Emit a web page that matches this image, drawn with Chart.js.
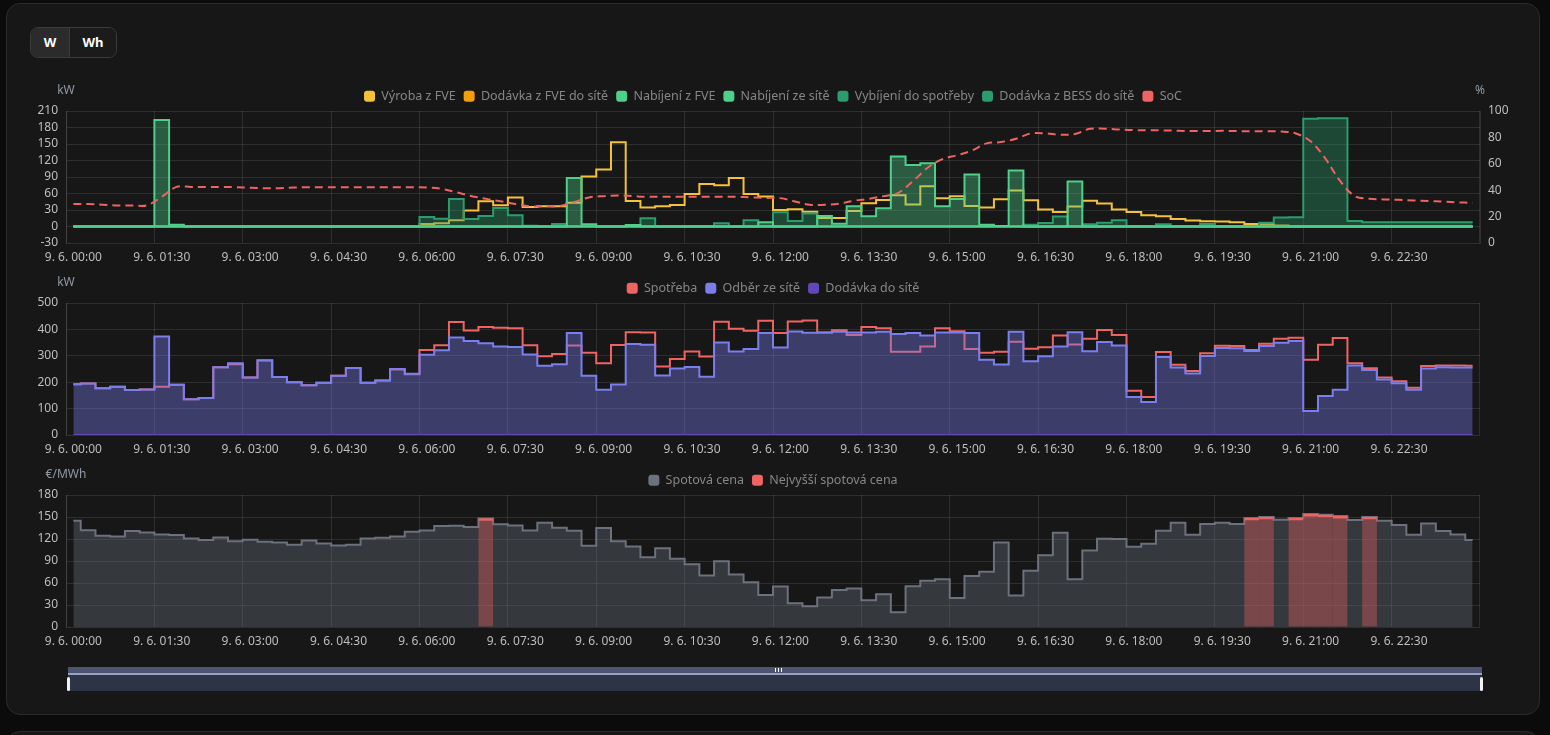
<!DOCTYPE html>
<html lang="cs">
<head>
<meta charset="utf-8">
<title>Energie - 9. 6.</title>
<script src="https://cdn.jsdelivr.net/npm/chart.js@4.4.1/dist/chart.umd.min.js"></script>
<style>
    html, body { margin: 0; padding: 0; width: 1550px; height: 735px; overflow: hidden; background: #0b0b0b; font-family: "Noto Sans", sans-serif; }
    .panel { position: absolute; left: 6px; top: 3px; width: 1532px; height: 710px; background: #171717; border: 1px solid #2b2b2b; border-radius: 14px; }
    .panel2 { position: absolute; left: 6px; top: 731px; width: 1532px; height: 60px; background: #171717; border: 1px solid #2b2b2b; border-radius: 14px; }
    .prepinac { position: absolute; left: 30px; top: 27px; height: 29px; display: flex; border: 1px solid #3b3b3b; border-radius: 8px; overflow: hidden; }
    .prepinac span { display: block; line-height: 29px; text-align: center; color: #fff; font-weight: 700; font-size: 13px; background: #1b1b1b; }
    .prepinac span.akt { width: 38px; background: #2b2b2b; border-right: 1px solid #3b3b3b; }
    .prepinac span.dalsi { width: 46px; }
    canvas.graf { position: absolute; left: 0; }
    .posuvnik { position: absolute; left: 68px; top: 667px; width: 1414px; height: 24px; }
    .posuvnik .pas { position: absolute; left: 0; top: 0; width: 100%; height: 6px; background: #4c5472; }
    .posuvnik .linka { position: absolute; left: 0; top: 6px; width: 100%; height: 2px; background: #9aa1bb; }
    .posuvnik .telo { position: absolute; left: 0; top: 8px; width: 100%; height: 16px; background: #2d3446; }
    .posuvnik .uchyt { position: absolute; top: 10px; width: 3px; height: 14px; background: #f2f2f2; border-radius: 2px; }
    .posuvnik .uchop { position: absolute; left: 707px; top: 1px; width: 5px; height: 4px; border-left: 1px solid #fff; border-right: 1px solid #fff; }
    .posuvnik .uchop:after { content: ""; position: absolute; left: 2px; top: 0; width: 1px; height: 4px; background: #fff; }
</style>
</head>
<body>
<div class="panel"></div>
<div class="panel2"></div>
<div class="prepinac"><span class="akt">W</span><span class="dalsi">Wh</span></div>

<canvas id="grafBaterie" class="graf" width="1550" height="192" style="top:80px"></canvas>
<canvas id="grafSit" class="graf" width="1550" height="192" style="top:272px"></canvas>
<canvas id="grafCena" class="graf" width="1550" height="192" style="top:464px"></canvas>

<div class="posuvnik">
    <div class="pas"></div><div class="linka"></div><div class="telo"></div>
    <div class="uchop"></div>
    <div class="uchyt" style="left:-1px"></div>
    <div class="uchyt" style="left:1412px"></div>
</div>

<script>
// =====================================
// DATA (15min intervaly, 9. 6.)
// =====================================

const casy = [];
for (let h = 0; h < 24; h++) {
    for (let m = 0; m < 60; m += 15) {
        casy.push(`9. 6. ${String(h).padStart(2, "0")}:${String(m).padStart(2, "0")}`);
    }
}

// kW
const vyrobaFVE = [
    0, 0, 0, 0, 0, 0, 0, 0, 0, 0, 0, 0,
    0, 0, 0, 0, 0, 0, 0, 0, 0, 0, 0, 0,
    4.6, 5.8, 11.3, 28.9, 46, 38.5, 52.6, 35.6, 36.8, 36.8, 43, 91,
    103.5, 153, 46.5, 34.4, 36.8, 39.2, 59.3, 77.5, 75, 88, 59.3, 54.4,
    30, 31.4, 27, 15.6, 15.6, 28.3, 42.2, 48.4, 57, 40, 73, 51.4,
    55, 37.5, 34.4, 49.6, 65.4, 47.8, 30.7, 26.5, 36.2, 47, 41.7, 30.7,
    26.5, 20.4, 18.6, 13.7, 10.7, 9.5, 8.9, 7.7, 4.6, 4.6, 2, 0,
    0, 0, 0, 0, 0, 0, 0, 0, 0, 0, 0, 0
];
const dodavkaFVE = [
    0, 0, 0, 0, 0, 0, 0, 0, 0, 0, 0, 0, 0, 0, 0, 0, 0, 0, 0, 0, 0, 0, 0, 0,
    0, 0, 0, 0, 0, 0, 0, 0, 0, 0, 0, 0, 0, 0, 0, 0, 0, 0, 0, 0, 0, 0, 0, 0,
    0, 0, 0, 0, 0, 0, 0, 0, 0, 0, 0, 0, 0, 0, 0, 0, 0, 0, 0, 0, 0, 0, 0, 0,
    0, 0, 0, 0, 0, 0, 0, 0, 0, 0, 0, 0, 0, 0, 0, 0, 0, 0, 0, 0, 0, 0, 0, 0
];
const nabijeniFVE = [
    0, 0, 0, 0, 0, 0, 0, 0, 0, 0, 0, 0,
    0, 0, 0, 0, 0, 0, 0, 0, 0, 0, 0, 0,
    0, 0, 0, 0, 0, 0, 0, 0, 0, 0, 88, 4,
    0, 0, 2.8, 0, 0, 0, 0, 0, 0, 0, 0, 7.6,
    0, 0, 0, 19.2, 5.2, 36.8, 18.6, 33, 127.4, 112, 115, 36.8,
    50, 94.5, 3, 1, 102, 0, 0, 0, 81.8, 0, 0, 0,
    0, 0, 0, 0, 0, 0, 0, 0, 0, 0, 0, 0,
    0, 0, 0, 0, 0, 0, 0, 0, 0, 0, 0, 0
];
const nabijeniSit = [
    0, 0, 0, 0, 0, 0, 193.5, 3, 0, 0, 0, 0, 0, 0, 0, 0, 0, 0, 0, 0, 0, 0, 0, 0,
    0, 0, 0, 0, 0, 0, 0, 0, 0, 0, 0, 0, 0, 0, 0, 0, 0, 0, 0, 0, 0, 0, 0, 0,
    0, 0, 0, 0, 0, 0, 0, 0, 0, 0, 0, 0, 0, 0, 0, 0, 0, 0, 0, 0, 0, 0, 0, 0,
    0, 0, 0, 0, 0, 0, 0, 0, 0, 0, 0, 0, 0, 0, 0, 0, 0, 0, 0, 0, 0, 0, 0, 0
];
const vybijeni = [
    0, 0, 0, 0, 0, 0, 0, 0, 0, 0, 0, 0,
    0, 0, 0, 0, 0, 0, 0, 0, 0, 0, 0, 0,
    17.3, 14.3, 50, 13.7, 19.2, 33.8, 20.4, 1.5, 0, 4.6, 0, 0,
    0, 0, 0, 15, 0, 0, 0, 0, 5.8, 0, 11.3, 0,
    25.9, 10, 23.5, 0, 0, 0, 0, 0, 0, 0, 0, 0,
    0, 0, 0, 0, 0, 3.4, 6.4, 18, 0, 4, 7, 11.3,
    0, 0, 4, 0, 0, 4.6, 0, 0, 0, 7, 16.2, 16.8,
    196, 196.6, 196.6, 10, 7.7, 7.7, 7.7, 7.7, 7.7, 7.7, 7.7, 7.7
];
const dodavkaBESS = [
    0, 0, 0, 0, 0, 0, 0, 0, 0, 0, 0, 0, 0, 0, 0, 0, 0, 0, 0, 0, 0, 0, 0, 0,
    0, 0, 0, 0, 0, 0, 0, 0, 0, 0, 0, 0, 0, 0, 0, 0, 0, 0, 0, 0, 0, 0, 0, 0,
    0, 0, 0, 0, 0, 0, 0, 0, 0, 0, 0, 0, 0, 0, 0, 0, 0, 0, 0, 0, 0, 0, 0, 0,
    0, 0, 0, 0, 0, 0, 0, 0, 0, 0, 0, 0, 0, 0, 0, 0, 0, 0, 0, 0, 0, 0, 0, 0
];
// %
const soc = [
    29.6, 29.6, 29, 28.4, 28.4, 28.6, 35, 42.5, 42.5, 42.5, 42.5, 42.3,
    41.8, 41.5, 41.5, 42, 42.3, 42.3, 42.3, 42.3, 42.3, 42.3, 42.3, 42.2,
    42, 41, 38.5, 35.6, 33.5, 31.6, 29.5, 27.8, 27.8, 28, 31, 34.5,
    35.5, 36, 35.5, 35, 35, 35, 35, 35, 35, 35, 34.6, 34.2,
    34, 31.5, 28.9, 29, 29.8, 32, 33.5, 35.5, 38, 46.8, 57, 63.5,
    66.5, 70, 75.5, 76.5, 79, 83, 83, 82, 82.5, 86.5, 86.6, 86,
    85.5, 85.4, 85.3, 85, 84.8, 84.8, 85, 84.8, 84.6, 84.6, 84.5, 83,
    77, 64, 47, 35.5, 33.5, 33, 32.7, 32.2, 31.8, 31.3, 30.8, 30.4
];

// kW
const spotreba = [
    192, 195, 177, 183, 170, 172, 183, 190, 135, 140, 257, 268,
    218, 282, 220, 200, 188, 198, 224, 254, 198, 206, 248, 230,
    322, 340, 428, 396, 409, 406, 404, 340, 298, 307, 339, 312,
    272, 341, 389, 388, 259, 288, 316, 297, 429, 402, 395, 433,
    386, 430, 434, 388, 397, 379, 409, 404, 315, 315, 335, 404,
    393, 326, 312, 315, 353, 327, 332, 377, 343, 365, 398, 379,
    168, 144, 314, 266, 242, 310, 338, 337, 322, 346, 365, 368,
    285, 342, 367, 272, 253, 218, 204, 179, 261, 263, 263, 262
];
const odberSit = [
    192, 195, 177, 183, 170, 172, 373, 190, 135, 140, 257, 272,
    218, 283, 220, 200, 188, 198, 224, 254, 198, 206, 250, 232,
    304, 321, 369, 356, 348, 335, 333, 305, 262, 268, 386, 224,
    171, 191, 345, 342, 225, 252, 258, 221, 350, 316, 326, 386,
    331, 392, 387, 388, 391, 388, 388, 391, 383, 386, 377, 388,
    388, 386, 285, 267, 391, 279, 298, 335, 389, 317, 352, 339,
    144, 125, 295, 256, 233, 299, 330, 329, 318, 337, 349, 356,
    91, 148, 171, 263, 246, 210, 196, 171, 252, 257, 256, 256
];
const dodavkaSit = [
    0, 0, 0, 0, 0, 0, 0, 0, 0, 0, 0, 0, 0, 0, 0, 0, 0, 0, 0, 0, 0, 0, 0, 0,
    0, 0, 0, 0, 0, 0, 0, 0, 0, 0, 0, 0, 0, 0, 0, 0, 0, 0, 0, 0, 0, 0, 0, 0,
    0, 0, 0, 0, 0, 0, 0, 0, 0, 0, 0, 0, 0, 0, 0, 0, 0, 0, 0, 0, 0, 0, 0, 0,
    0, 0, 0, 0, 0, 0, 0, 0, 0, 0, 0, 0, 0, 0, 0, 0, 0, 0, 0, 0, 0, 0, 0, 0
];

// €/MWh
const spotCena = [
    145, 132, 124.4, 123.5, 130.8, 129, 126.2, 125.3, 120.8, 118.5, 122, 117,
    119, 116.2, 115.3, 112, 118, 114, 111.2, 112, 120.8, 121.7, 123.5, 130,
    131.7, 137.6, 138, 136.3, 148, 140, 138.5, 131.7, 142.2, 135.3, 131.2, 110.7,
    135, 117, 109.8, 95.2, 107.5, 93, 85.7, 70.2, 89.8, 71.5, 61, 43.7,
    55.1, 32.4, 28.3, 40.1, 50.6, 52.4, 36.5, 44.7, 20, 55.6, 62.9, 65.2,
    39.6, 69.7, 75.2, 115.3, 42.8, 76.6, 98, 128.5, 65.2, 104.4, 120.3, 119.9,
    109.4, 113.5, 131.2, 142.2, 125.8, 140.4, 142.2, 140.4, 148.6, 150, 146.3, 148.6,
    154, 153.1, 151.3, 145.8, 150, 145, 139, 125.8, 141.3, 130.8, 126.2, 118.5
];
const nejvyssiCena = [
    null, null, null, null, null, null, null, null, null, null, null, null,
    null, null, null, null, null, null, null, null, null, null, null, null,
    null, null, null, null, 148, null, null, null, null, null, null, null,
    null, null, null, null, null, null, null, null, null, null, null, null,
    null, null, null, null, null, null, null, null, null, null, null, null,
    null, null, null, null, null, null, null, null, null, null, null, null,
    null, null, null, null, null, null, null, null, 148.6, 150, null, 148.6,
    154, 153.1, 151.3, null, 150, null, null, null, null, null, null, null
];

// =====================================
// VZHLED
// =====================================

const PISMO = '"Noto Sans", "Open Sans", sans-serif';
const MRIZKA = "rgba(255,255,255,0.1)";
const TEXT_OSY = "#bdbdbd";
const TEXT_LEGENDY = "#868686";

const ZLUTA = "#f4c23a";
const ORANZOVA = "#f59e0b";
const ZELENA = "#4fd08a";
const TMAVE_ZELENA = "#2b9c6d";
const CERVENA = "#ef6363";
const MODRA = "#7b7fee";
const FIALOVA = "#6247bb";
const SEDA = "#6b717d";

function pruhledna(hex, a) {
    const n = parseInt(hex.slice(1), 16);
    return `rgba(${n >> 16},${(n >> 8) & 255},${n & 255},${a})`;
}

function legendaPolozky(chart) {
    return chart.data.datasets.map((ds, i) => ({
        text: ds.label,
        fillStyle: ds.borderColor,
        strokeStyle: ds.borderColor,
        lineWidth: 0,
        fontColor: TEXT_LEGENDY,
        hidden: !chart.isDatasetVisible(i),
        datasetIndex: i,
        borderRadius: 3
    }));
}

const jednotkyPlugin = {
    id: "jednotky",
    afterDraw(chart, args, opts) {
        const { ctx, chartArea } = chart;
        ctx.save();
        ctx.font = `12px ${PISMO}`;
        ctx.fillStyle = "#8e99a6";
        ctx.textAlign = "center";
        ctx.textBaseline = "middle";
        if (opts.vlevo) ctx.fillText(opts.vlevo, chartArea.left, chartArea.top - 20);
        if (opts.vpravo) ctx.fillText(opts.vpravo, chartArea.right, chartArea.top - 20);
        ctx.restore();
    }
};

function osaX() {
    return {
        type: "category",
        offset: true,
        grid: {
            offset: true,
            drawTicks: false,
            color: c => (c.type === "scale" || c.index % 6 === 0) ? MRIZKA : "transparent"
        },
        border: { display: false },
        ticks: {
            autoSkip: false,
            maxRotation: 0,
            padding: 7,
            color: TEXT_OSY,
            font: { size: 12, family: PISMO },
            callback: function (v, i) { return i % 6 === 0 ? this.getLabelForValue(v) : ""; }
        }
    };
}

function osaY(min, max, krok, pozice, sirka, mrizka) {
    return {
        position: pozice,
        min, max,
        ticks: { stepSize: krok, autoSkip: false, padding: 8, color: TEXT_OSY, font: { size: 12, family: PISMO } },
        grid: { display: mrizka, color: MRIZKA, drawTicks: false },
        border: { display: true, color: MRIZKA },
        afterFit: s => { s.width = sirka; }
    };
}

function schod(label, data, barva, vypln, poradi, osa) {
    return {
        label, data,
        borderColor: barva,
        backgroundColor: vypln ? pruhledna(barva, 0.37) : barva,
        fill: vypln ? "origin" : false,
        stepped: "middle",
        borderWidth: 2,
        pointRadius: 0,
        order: poradi,
        yAxisID: osa || "y"
    };
}

// legenda bez fullSize -> je na stredu kreslici plochy
function spolecneVolby(jednotky, praveOdsazeni) {
    return {
        responsive: false,
        animation: false,
        events: [],
        layout: { padding: { top: 2, bottom: 0.6, left: 0, right: praveOdsazeni } },
        plugins: {
            legend: {
                position: "top",
                fullSize: false,
                maxHeight: 29,
                labels: {
                    generateLabels: legendaPolozky,
                    color: TEXT_LEGENDY,
                    font: { size: 12.5, family: PISMO },
                    boxWidth: 11,
                    boxHeight: 11,
                    useBorderRadius: true,
                    borderRadius: 3,
                    padding: 8
                }
            },
            tooltip: { enabled: false },
            jednotky
        }
    };
}

// =====================================
// GRAF BATERIE / FVE
// =====================================

const volbyBaterie = spolecneVolby({ vlevo: "kW", vpravo: "%" }, 0);
volbyBaterie.scales = {
    x: osaX(),
    y: osaY(-30, 210, 30, "left", 66, true),
    y1: osaY(0, 100, 20, "right", 70, false)
};

new Chart(document.getElementById("grafBaterie"), {
    type: "line",
    data: {
        labels: casy,
        datasets: [
            schod("Výroba z FVE", vyrobaFVE, ZLUTA, false, 6),
            schod("Dodávka z FVE do sítě", dodavkaFVE, ORANZOVA, true, 5),
            schod("Nabíjení z FVE", nabijeniFVE, ZELENA, true, 2),
            schod("Nabíjení ze sítě", nabijeniSit, ZELENA, true, 1),
            schod("Vybíjení do spotřeby", vybijeni, TMAVE_ZELENA, true, 3),
            schod("Dodávka z BESS do sítě", dodavkaBESS, TMAVE_ZELENA, true, 4),
            {
                label: "SoC",
                data: soc,
                borderColor: CERVENA,
                backgroundColor: CERVENA,
                borderDash: [8, 5],
                borderWidth: 2,
                pointRadius: 0,
                tension: 0.35,
                fill: false,
                order: 0,
                yAxisID: "y1"
            }
        ]
    },
    options: volbyBaterie,
    plugins: [jednotkyPlugin]
});

// =====================================
// GRAF SITE
// =====================================

const volbySit = spolecneVolby({ vlevo: "kW" }, 70);
volbySit.scales = { x: osaX(), y: osaY(0, 500, 100, "left", 66, true) };

new Chart(document.getElementById("grafSit"), {
    type: "line",
    data: {
        labels: casy,
        datasets: [
            schod("Spotřeba", spotreba, CERVENA, false, 2),
            Object.assign(schod("Odběr ze sítě", odberSit, MODRA, true, 1), { backgroundColor: "rgba(121,121,229,0.4)" }),
            schod("Dodávka do sítě", dodavkaSit, FIALOVA, true, 0)
        ]
    },
    options: volbySit,
    plugins: [jednotkyPlugin]
});

// =====================================
// GRAF SPOTOVE CENY
// =====================================

const volbyCena = spolecneVolby({ vlevo: "€/MWh" }, 70);
volbyCena.scales = { x: osaX(), y: osaY(0, 180, 30, "left", 66, true) };

new Chart(document.getElementById("grafCena"), {
    type: "line",
    data: {
        labels: casy,
        datasets: [
            schod("Spotová cena", spotCena, SEDA, true, 1),
            {
                type: "bar",
                label: "Nejvyšší spotová cena",
                data: nejvyssiCena,
                borderColor: CERVENA,
                backgroundColor: pruhledna(CERVENA, 0.37),
                borderWidth: { top: 2, right: 0, bottom: 0, left: 0 },
                borderSkipped: "start",
                barPercentage: 1,
                categoryPercentage: 1,
                order: 0
            }
        ]
    },
    options: volbyCena,
    plugins: [jednotkyPlugin]
});
</script>
</body>
</html>
